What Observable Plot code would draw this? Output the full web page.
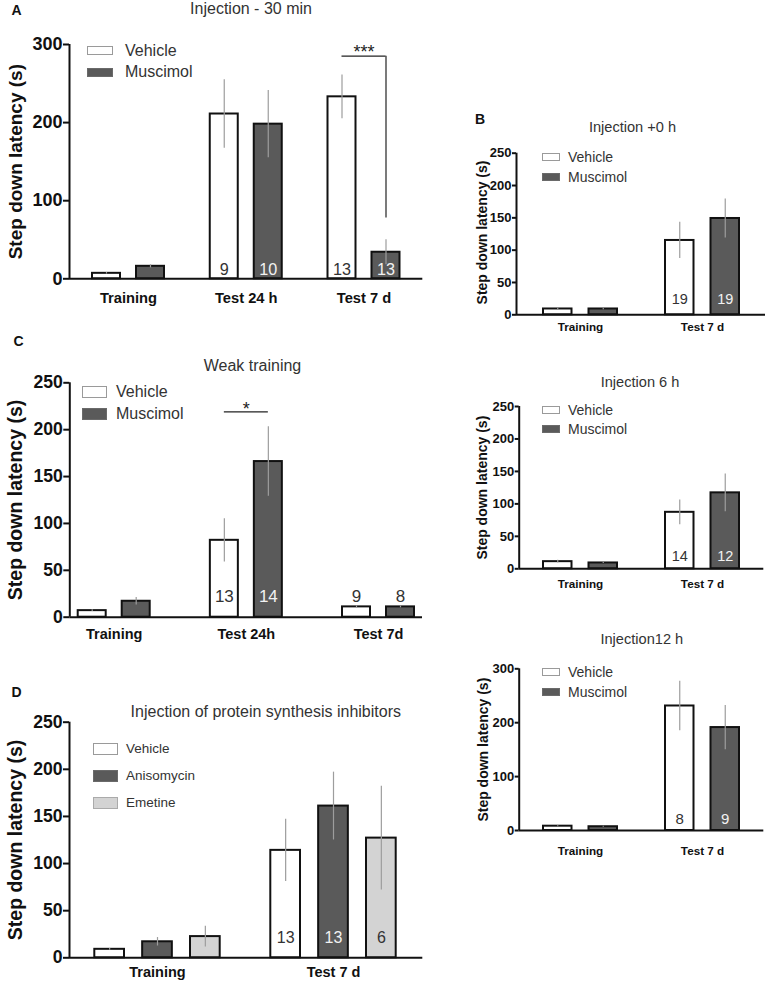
<!DOCTYPE html>
<html>
<head>
<meta charset="utf-8">
<script src="https://cdn.jsdelivr.net/npm/d3@7"></script>
<script src="https://cdn.jsdelivr.net/npm/@observablehq/plot@0.6"></script>
<style>
  body { margin: 0; background: #fff; }
  #fig { position: relative; width: 767px; height: 981px; overflow: hidden; font-family: "Liberation Sans", Arial, Helvetica, sans-serif; }
  #fig svg { position: absolute; }
  .t { position: absolute; white-space: nowrap; }
  .box { position: absolute; box-sizing: border-box; }
</style>
</head>
<body>
<div id="fig"></div>
<script>
// ---------------- DATA ----------------
const yLabel = "Step down latency (s)";

// Panel A: Injection - 30 min
const groupsA = ["Training", "Test 24 h", "Test 7 d"];
const vehicleA = [7, 211, 233];
const vehicleSemA = [1, 44, 28];
const vehicleNA = [null, 9, 13];
const muscimolA = [16, 198, 34];
const muscimolSemA = [2, 43, 16];
const muscimolNA = [null, 10, 13];
const sigA = [{group: "Test 7 d", y: 285, yEnd: 78, label: "***"}];
const ticksA = [0, 100, 200, 300];

// Panel B: Injection +0 h
const groupsB0 = ["Training", "Test 7 d"];
const vehicleB0 = [9, 115];
const vehicleSemB0 = [1, 28];
const vehicleNB0 = [null, 19];
const muscimolB0 = [9, 149];
const muscimolSemB0 = [1, 30];
const muscimolNB0 = [null, 19];

// Panel B: Injection 6 h
const groupsB6 = ["Training", "Test 7 d"];
const vehicleB6 = [11, 87];
const vehicleSemB6 = [2, 19];
const vehicleNB6 = [null, 14];
const muscimolB6 = [9, 117];
const muscimolSemB6 = [1, 29];
const muscimolNB6 = [null, 12];

// Panel B: Injection 12 h
const groupsB12 = ["Training", "Test 7 d"];
const vehicleB12 = [8, 231];
const vehicleSemB12 = [1, 46];
const vehicleNB12 = [null, 8];
const muscimolB12 = [7, 191];
const muscimolSemB12 = [1, 41];
const muscimolNB12 = [null, 9];

// Panel C: Weak training
const groupsC = ["Training", "Test 24h", "Test 7d"];
const vehicleC = [7, 82, 11];
const vehicleSemC = [1, 23, 1];
const vehicleNC = [null, 13, 9];
const muscimolC = [17, 166, 11];
const muscimolSemC = [4, 37, 1];
const muscimolNC = [null, 14, 8];
const sigC = [{group: "Test 24h", y: 219, label: "*"}];

// Panel D: protein synthesis inhibitors
const groupsD = ["Training", "Test 7 d"];
const vehicleD = [9, 114];
const vehicleSemD = [1, 33];
const vehicleND = [null, 13];
const anisomycinD = [17, 161];
const anisomycinSemD = [4.5, 36];
const anisomycinND = [null, 13];
const emetineD = [22.5, 127];
const emetineSemD = [11, 55];
const emetineND = [null, 6];

const ticks250 = [0, 50, 100, 150, 200, 250];

// ---------------- STYLE ----------------
const FONT = '"Liberation Sans", Arial, Helvetica, sans-serif';
const DARK = "#5a5a5a";
const LIGHT = "#d3d3d3";
const fig = document.getElementById("fig");

function drawPanel(cfg) {
  const k = cfg.series.length;
  const n = cfg.groups.length;
  const [r0, r1] = cfg.xRange;
  const step = (r1 - r0 - cfg.bw) / (n - 1);
  const pInner = 1 - cfg.bw / step;
  const s = (cfg.bw - cfg.barW) / (k - 1);
  const rows = [];
  cfg.series.forEach((ser, i) => {
    cfg.groups.forEach((g, j) => rows.push({si: i, group: g, value: ser.values[j], sem: ser.sem[j], n: ser.n[j]}));
  });
  const offset = i => i * s + cfg.barW / 2 - cfg.bw / 2;
  const marks = [];
  cfg.series.forEach((ser, i) => {
    marks.push(Plot.barY(rows.filter(d => d.si === i), {
      x: "group", y: "value", fill: ser.fill, stroke: "#111", strokeWidth: 2,
      insetLeft: i * s + 1, insetRight: (k - 1 - i) * s + 1
    }));
  });
  cfg.series.forEach((ser, i) => {
    marks.push(Plot.ruleX(rows.filter(d => d.si === i), {
      x: "group", y1: d => Math.max(0, d.value - d.sem), y2: d => d.value + d.sem,
      dx: offset(i), stroke: "#9d9d9d", strokeWidth: 1.2
    }));
  });
  marks.push(Plot.ruleY([0], {stroke: "#111", strokeWidth: 2}));
  // y axis line at the left edge of the frame
  const firstCenter = r0 - cfg.left + cfg.bw / 2;
  marks.push(Plot.ruleX([cfg.groups[0]], {x: d => d, y1: cfg.yDomain[0], y2: cfg.yDomain[1], dx: cfg.m[0] - firstCenter, stroke: "#111", strokeWidth: 2}));
  cfg.series.forEach((ser, i) => {
    const lab = rows.filter(d => d.si === i && d.n != null);
    const inside = lab.filter(d => ser.labelInside && d.value > cfg.nMin);
    const outside = lab.filter(d => !(ser.labelInside && d.value > cfg.nMin));
    marks.push(Plot.text(inside, {x: "group", y: 0, text: d => String(d.n), dx: offset(i), dy: cfg.nDy, fontSize: cfg.nFont, fill: "#f2f2f2"}));
    marks.push(Plot.text(outside, {x: "group", y: 0, text: d => String(d.n), dx: offset(i), dy: cfg.nDy, fontSize: cfg.nFont, fill: "#333"}));
  });
  if (cfg.sig) {
    marks.push(Plot.tickY(cfg.sig, {x: "group", y: "y", insetLeft: cfg.barW / 2, insetRight: cfg.barW / 2, stroke: "#222", strokeWidth: 1.2}));
    marks.push(Plot.ruleX(cfg.sig.filter(d => d.yEnd != null), {x: "group", y1: "yEnd", y2: "y", dx: offset(k - 1), stroke: "#222", strokeWidth: 1.2}));
    marks.push(Plot.text(cfg.sig, {x: "group", y: "y", text: "label", dy: cfg.sigDy, fontSize: cfg.sigFont, fill: "#222"}));
  }
  marks.push(Plot.axisY({ticks: cfg.yTicks, tickSize: cfg.tickSize, tickPadding: 1, fontSize: cfg.tickFont, fontWeight: "bold", strokeWidth: 2, label: null}));
  marks.push(Plot.axisX({tickSize: 0, tickPadding: cfg.xPad, fontSize: cfg.xFont, fontWeight: "bold", label: null}));
  marks.push(Plot.text([yLabel], {frameAnchor: "left", textAnchor: "middle", lineAnchor: "middle", rotate: -90, dx: cfg.yLabelDx, dy: cfg.yLabelDy || 0, fontSize: cfg.yLabelFont, fontWeight: "bold", fill: "#111"}));

  const svg = Plot.plot({
    width: cfg.width, height: cfg.height,
    marginLeft: cfg.m[0], marginTop: cfg.m[1], marginRight: cfg.m[2], marginBottom: cfg.m[3],
    x: {type: "band", domain: cfg.groups, range: [r0 - cfg.left, r1 - cfg.left], paddingInner: pInner, paddingOuter: 0, align: 0.5, round: false},
    y: {domain: cfg.yDomain, nice: false},
    style: {fontFamily: FONT, background: "transparent", overflow: "visible", color: "#111"},
    marks
  });
  svg.style.left = cfg.left + "px";
  svg.style.top = cfg.top + "px";
  svg.style.maxWidth = "none";
  fig.appendChild(svg);
}

function addText(str, x, baseline, size, opts = {}) {
  const d = document.createElement("div");
  d.className = "t";
  d.textContent = str;
  d.style.fontSize = size + "px";
  d.style.lineHeight = size + "px";
  d.style.fontWeight = opts.weight || "normal";
  d.style.color = opts.color || "#333";
  d.style.top = (baseline - 0.8465 * size) + "px";
  d.style.left = x + "px";
  if (opts.anchor === "middle") d.style.transform = "translateX(-50%)";
  fig.appendChild(d);
}

function addLegend(items, boxX, boxW, boxH, textX, size) {
  items.forEach(it => {
    const b = document.createElement("div");
    b.className = "box";
    b.style.left = boxX + "px";
    b.style.top = (it.cy - boxH / 2) + "px";
    b.style.width = boxW + "px";
    b.style.height = boxH + "px";
    b.style.background = it.fill;
    b.style.border = "1px solid " + it.border;
    fig.appendChild(b);
    addText(it.label, textX, it.cy + 0.36 * size, size);
  });
}

const vehicleStyle = {fill: "white", labelInside: false};
const darkStyle = {fill: DARK, labelInside: true};
const lightStyle = {fill: LIGHT, labelInside: false};

// ---------------- PANEL A ----------------
drawPanel({
  left: 0, top: 0, width: 430, height: 320, m: [69, 44, 7.7, 41.7],
  groups: groupsA, xRange: [91, 400.5], bw: 74, barW: 30,
  yDomain: [0, 300], yTicks: ticksA, tickSize: 6, tickFont: 18,
  xFont: 14.7, xPad: 13.4, yLabelFont: 19, yLabelDx: -54,
  nFont: 16.2, nDy: -8.5, nMin: 25, sig: sigA, sigFont: 18, sigDy: -4,
  series: [
    {...vehicleStyle, values: vehicleA, sem: vehicleSemA, n: vehicleNA},
    {...darkStyle, values: muscimolA, sem: muscimolSemA, n: muscimolNA}
  ]
});

// ---------------- PANEL B0 ----------------
drawPanel({
  left: 440, top: 140, width: 327, height: 200, m: [76, 12.7, 2, 25.7],
  groups: groupsB0, xRange: [542, 740], bw: 76, barW: 30.5,
  yDomain: [0, 250], yTicks: ticks250, tickSize: 4, tickFont: 13,
  xFont: 11.7, xPad: 7.4, yLabelFont: 14, yLabelDx: -34, yLabelDy: -1.5,
  nFont: 14.5, nDy: -15.6, nMin: 30,
  series: [
    {...vehicleStyle, values: vehicleB0, sem: vehicleSemB0, n: vehicleNB0},
    {...darkStyle, values: muscimolB0, sem: muscimolSemB0, n: muscimolNB0}
  ]
});

// ---------------- PANEL B6 ----------------
drawPanel({
  left: 440, top: 395, width: 327, height: 200, m: [78.7, 11, 3.7, 26.7],
  groups: groupsB6, xRange: [542, 740], bw: 76, barW: 30.5,
  yDomain: [0, 250], yTicks: ticks250, tickSize: 4, tickFont: 13,
  xFont: 11.7, xPad: 10.7, yLabelFont: 14, yLabelDx: -36.2,
  nFont: 14.5, nDy: -12.9, nMin: 30,
  series: [
    {...vehicleStyle, values: vehicleB6, sem: vehicleSemB6, n: vehicleNB6},
    {...darkStyle, values: muscimolB6, sem: muscimolSemB6, n: muscimolNB6}
  ]
});

// ---------------- PANEL B12 ----------------
drawPanel({
  left: 440, top: 655, width: 327, height: 210, m: [78.7, 13.3, 3.7, 35],
  groups: groupsB12, xRange: [542, 740], bw: 76, barW: 30.5,
  yDomain: [0, 300], yTicks: ticksA, tickSize: 4, tickFont: 13,
  xFont: 11.7, xPad: 16, yLabelFont: 14, yLabelDx: -36,
  nFont: 15, nDy: -11.5, nMin: 30,
  series: [
    {...vehicleStyle, values: vehicleB12, sem: vehicleSemB12, n: vehicleNB12},
    {...darkStyle, values: muscimolB12, sem: muscimolSemB12, n: muscimolNB12}
  ]
});

// ---------------- PANEL C ----------------
drawPanel({
  left: 0, top: 370, width: 430, height: 280, m: [69.3, 12.3, 8, 33.3],
  groups: groupsC, xRange: [76.7, 415], bw: 74, barW: 30,
  yDomain: [0, 250], yTicks: ticks250, tickSize: 6, tickFont: 17.6,
  xFont: 14.5, xPad: 11.6, yLabelFont: 19.5, yLabelDx: -54.3,
  nFont: 17, nDy: -20.4, nMin: 30, sig: sigC, sigFont: 18, sigDy: -3,
  series: [
    {...vehicleStyle, values: vehicleC, sem: vehicleSemC, n: vehicleNC},
    {...darkStyle, values: muscimolC, sem: muscimolSemC, n: muscimolNC}
  ]
});

// ---------------- PANEL D ----------------
drawPanel({
  left: 0, top: 715, width: 430, height: 266, m: [69, 6.7, 7.7, 23.7],
  groups: groupsD, xRange: [93.3, 396.7], bw: 127.4, barW: 31.7,
  yDomain: [0, 250], yTicks: ticks250, tickSize: 6, tickFont: 17.6,
  xFont: 14.5, xPad: 8.7, yLabelFont: 19.5, yLabelDx: -54,
  nFont: 16, nDy: -19.7, nMin: 30,
  series: [
    {...vehicleStyle, values: vehicleD, sem: vehicleSemD, n: vehicleND},
    {...darkStyle, values: anisomycinD, sem: anisomycinSemD, n: anisomycinND},
    {...lightStyle, values: emetineD, sem: emetineSemD, n: emetineND}
  ]
});

// ---------------- TITLES, LETTERS ----------------
addText("A", 11.5, 15, 14, {weight: "bold", color: "#111"});
addText("B", 475, 124, 14, {weight: "bold", color: "#111"});
addText("C", 13.5, 345.7, 14, {weight: "bold", color: "#111"});
addText("D", 11.5, 697.3, 14, {weight: "bold", color: "#111"});

addText("Injection - 30 min", 251, 14.5, 16, {anchor: "middle"});
addText("Injection +0 h", 632.5, 132.3, 14.6, {anchor: "middle"});
addText("Injection 6 h", 640, 387.7, 14.6, {anchor: "middle"});
addText("Injection12 h", 641.8, 644, 14.6, {anchor: "middle"});
addText("Weak training", 252.5, 371.7, 16, {anchor: "middle"});
addText("Injection of protein synthesis inhibitors", 265.8, 717.7, 16, {anchor: "middle"});

// ---------------- LEGENDS ----------------
const vehLeg = {fill: "white", border: "#9a9a9a"};
const darkLeg = {fill: DARK, border: "#6a6a6a"};
const lightLeg = {fill: LIGHT, border: "#aaaaaa"};
addLegend([{...vehLeg, label: "Vehicle", cy: 50.5}, {...darkLeg, label: "Muscimol", cy: 72}], 87, 26, 9, 125, 16);
addLegend([{...vehLeg, label: "Vehicle", cy: 157}, {...darkLeg, label: "Muscimol", cy: 176.5}], 542, 18, 8, 568, 14);
addLegend([{...vehLeg, label: "Vehicle", cy: 410}, {...darkLeg, label: "Muscimol", cy: 429}], 542, 18, 8, 568, 14);
addLegend([{...vehLeg, label: "Vehicle", cy: 672.3}, {...darkLeg, label: "Muscimol", cy: 692.3}], 542, 18, 8, 568, 14);
addLegend([{...vehLeg, label: "Vehicle", cy: 392}, {...darkLeg, label: "Muscimol", cy: 414}], 81.7, 25.6, 12.5, 116, 16);
addLegend([{...vehLeg, label: "Vehicle", cy: 749}, {...darkLeg, label: "Anisomycin", cy: 775.8}, {...lightLeg, label: "Emetine", cy: 803}], 93.3, 25, 12.6, 126, 13.5);
</script>
</body>
</html>
